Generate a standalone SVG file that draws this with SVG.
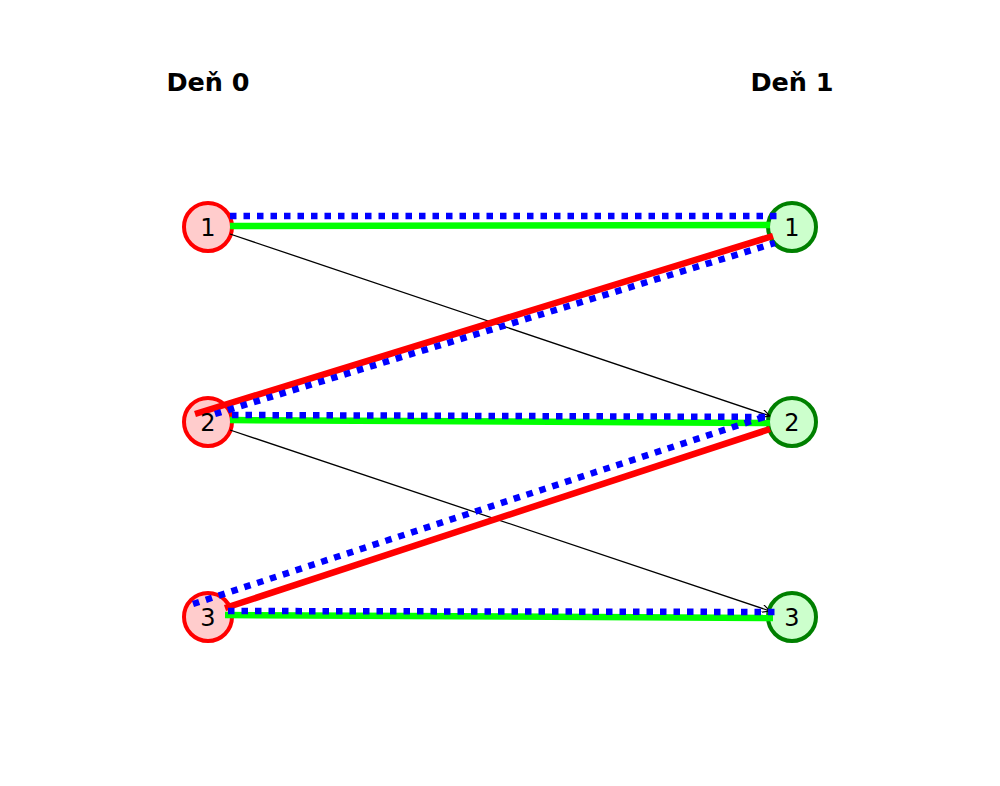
<svg xmlns="http://www.w3.org/2000/svg" width="1000" height="786" viewBox="0 0 1000 786">
<defs>
<style>
.g{stroke:#00ff00;stroke-width:6.5;fill:none}
.r{stroke:#ff0000;stroke-width:6.5;fill:none}
.b{stroke:#0000ff;stroke-width:6.5;fill:none;stroke-dasharray:6.5,7}
.k{stroke:#000;stroke-width:1.3;fill:none;marker-end:url(#ah)}
.nl circle{fill:#ffcccc;stroke:#ff0000;stroke-width:4}
.nr circle{fill:#ccffcc;stroke:#008000;stroke-width:4}
.lbl{font-family:"DejaVu Sans",sans-serif;font-size:24px;text-anchor:middle;fill:#000}
.ttl{font-family:"DejaVu Sans",sans-serif;font-size:25.5px;font-weight:bold;text-anchor:middle;fill:#000}
</style>
<marker id="ah" viewBox="0 0 10 10" refX="10" refY="5" markerWidth="8" markerHeight="8" markerUnits="userSpaceOnUse" orient="auto">
<path d="M0,0 L10,5 L0,10" fill="none" stroke="#000" stroke-width="1.5"/>
</marker>
</defs>
<rect width="1000" height="786" fill="#fff"/>
<text class="ttl" x="208" y="91">Deň 0</text>
<text class="ttl" x="792" y="91">Deň 1</text>
<g id="L1" class="nl"><circle cx="208" cy="227" r="24"/></g>
<g id="L2" class="nl"><circle cx="208" cy="422" r="24"/></g>
<g id="L3" class="nl"><circle cx="208" cy="617" r="24"/></g>
<g id="R1" class="nr"><circle cx="792" cy="227" r="24"/></g>
<g id="R2" class="nr"><circle cx="792" cy="422" r="24"/></g>
<g id="R3" class="nr"><circle cx="792" cy="617" r="24"/></g>
<g id="edges">
<line class="k" x1="230" y1="234" x2="770" y2="416"/>
<line class="k" x1="230" y1="430" x2="770" y2="611"/>
<line class="g" x1="230" y1="226" x2="770" y2="225"/>
<line class="g" x1="230" y1="420" x2="770" y2="423"/>
<line class="g" x1="225" y1="615" x2="773" y2="618"/>
<line class="r" x1="195" y1="414" x2="773" y2="236"/>
<line class="r" x1="225" y1="608" x2="770" y2="429"/>
<line class="b" x1="230" y1="216" x2="780" y2="216"/>
<line class="b" x1="215" y1="414" x2="775" y2="243"/>
<line class="b" x1="232" y1="415" x2="772" y2="417"/>
<line class="b" x1="193" y1="604" x2="770" y2="415"/>
<line class="b" x1="228" y1="611" x2="780" y2="612"/>
</g>
<g id="labels">
<text class="lbl" x="208" y="235.5">1</text>
<text class="lbl" x="208" y="430.5">2</text>
<text class="lbl" x="208" y="625.5">3</text>
<text class="lbl" x="792" y="235.5">1</text>
<text class="lbl" x="792" y="430.5">2</text>
<text class="lbl" x="792" y="625.5">3</text>
</g>
</svg>
